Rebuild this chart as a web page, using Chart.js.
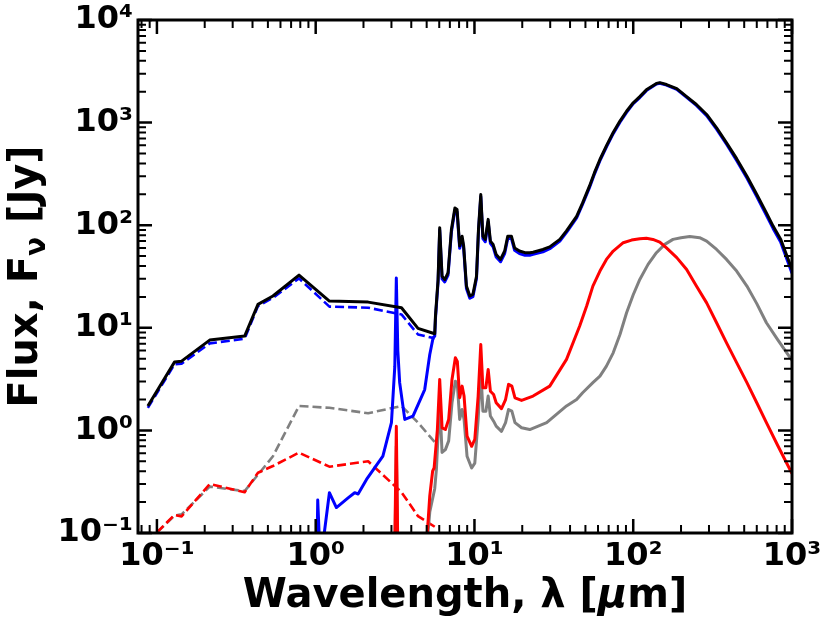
<!DOCTYPE html>
<html>
<head>
<meta charset="utf-8">
<script src="https://cdn.jsdelivr.net/npm/chart.js@4.4.0/dist/chart.umd.min.js"></script>
<style>
  html, body { margin: 0; padding: 0; background: #fff; }
</style>
</head>
<body>
<canvas id="sed" width="830" height="623" style="width:830px;height:623px"></canvas>
<script>
// wavelengths in micron, fluxes in Jy

// coarse stellar sampling (dashed lines)
const photWave      = [0.0877, 0.129, 0.143, 0.215, 0.357, 0.433, 0.538, 0.785, 1.22, 2.14, 3.47, 4.41, 5.62];
const starFlux      = [1.66, 4.40, 4.47, 7.05, 7.83, 16.3, 19.6, 30.3, 16.1, 15.7, 13.5, 8.6, 7.9];
const starRedFlux   = [0.083, 0.15, 0.145, 0.30, 0.25, 0.387, 0.45, 0.607, 0.443, 0.50, 0.25, 0.146, 0.115];
const starGreyFlux  = [0.083, 0.148, 0.152, 0.283, 0.256, 0.37, 0.56, 1.73, 1.66, 1.47, 1.73, 1.19, 0.77];

// total (black)
const totalWave = [0.0877, 0.129, 0.143, 0.215, 0.357, 0.433, 0.538, 0.785, 1.22, 2.14, 3.47, 4.41, 5.62,
  5.68, 5.9, 6.04, 6.25, 6.5, 6.82, 7.16, 7.53, 7.77, 8.07, 8.36, 8.55, 8.9, 9.35, 9.78, 10.3, 10.6,
  10.96, 11.3, 11.7, 12.2, 12.6, 13.1, 13.7, 14.6, 15.5, 16.2, 17.1, 17.9, 19.2, 20.8, 22.3, 23.4, 27,
  29.8, 34.5, 38, 44, 48, 53, 57, 61.7, 68, 74.8, 82.5, 90.8, 100, 110, 121, 140, 147, 162, 188, 217,
  250, 290, 335, 387, 448, 520, 600, 690, 760, 850, 1000];
const totalFlux = [1.73, 4.63, 4.73, 7.59, 8.3, 16.9, 20.4, 32.6, 18.2, 17.8, 15.7, 9.86, 8.75,
  13, 29.5, 94.6, 31.8, 29.5, 34.4, 91, 147, 142, 62.8, 78, 62.8, 25.5, 20.4, 21.2, 31.8, 91,
  199, 78, 72.8, 114, 70, 65, 51.8, 46.4, 56, 78, 78, 60, 56, 54, 54, 54.5, 58,
  61.5, 72.7, 88, 122, 165, 240, 325, 437, 600, 800, 1035, 1290, 1560, 1790, 2085, 2410, 2450, 2350, 2140, 1790,
  1500, 1200, 890, 635, 445, 300, 199, 132, 98, 72.7, 37];

// dust (blue solid)
const dustWave = [1.0, 1.03, 1.07, 1.22, 1.35, 1.6, 1.76, 1.85, 2.09, 2.65, 3.0, 3.15, 3.22, 3.29, 3.38, 3.64,
  4.1, 4.86, 5.23, 5.49, 5.62, 5.68, 5.9, 6.04, 6.25, 6.5, 6.82, 7.16, 7.53, 7.77, 8.07, 8.36, 8.55, 8.9,
  9.35, 9.78, 10.3, 10.6, 10.96, 11.3, 11.7, 12.2, 12.6, 13.1, 13.7, 14.6, 15.5, 16.2, 17.1, 17.9, 19.2,
  20.8, 22.3, 23.4, 27, 29.8, 34.5, 38, 44, 48, 53, 57, 61.7, 68, 74.8, 82.5, 90.8, 100, 110, 121, 140,
  147, 162, 188, 217, 250, 290, 335, 387, 448, 520, 600, 690, 760, 850, 1000];
const dustFlux = [0.01, 0.21, 0.05, 0.247, 0.177, 0.22, 0.247, 0.24, 0.333, 0.562, 1.19, 4.2, 30.6, 6.0, 2.92, 1.28,
  1.38, 2.5, 5.5, 8.0, 8.3, 12.3, 28, 90, 30, 28, 32.7, 86, 140, 135, 59.5, 74, 59.5, 24.2,
  19.4, 20.1, 30.2, 86.5, 190, 74, 69, 108, 66.5, 61.5, 49, 44, 53, 74, 74, 57, 53,
  51, 51, 52, 55, 59, 70, 85, 118, 160, 232, 315, 425, 585, 780, 1010, 1260, 1530, 1755, 2050, 2380,
  2420, 2320, 2110, 1760, 1470, 1170, 865, 615, 428, 288, 190, 125, 93, 68, 34];

// warm dust (red solid)
const warmWave = [3.1, 3.22, 3.34, 4.9, 5.23, 5.45, 5.57, 5.84, 6.04, 6.25, 6.56, 6.88, 7.22, 7.58, 7.8, 8.07,
  8.36, 8.6, 8.98, 9.6, 10.05, 10.55, 10.96, 11.3, 11.8, 12.2, 12.6, 13.2, 13.7, 14.8, 15.7, 16.4, 17.2,
  18, 19.8, 23.4, 29.8, 38, 46, 50.9, 55.7, 61.7, 67.8, 74.8, 86.5, 97.6, 110, 121, 133, 147, 162, 188,
  217, 250, 290, 335, 387, 448, 520, 600, 690, 810, 1000];
const warmFlux = [0.01, 1.10, 0.01, 0.05, 0.23, 0.40, 0.43, 1.02, 3.14, 1.06, 1.02, 1.28, 3.14, 5.1, 4.7, 2.08,
  2.7, 2.16, 0.88, 0.70, 0.82, 2.16, 6.87, 2.6, 2.6, 3.93, 2.41, 2.24, 1.86, 1.63, 2.0, 2.81, 2.7,
  2.08, 1.96, 2.16, 2.7, 4.92, 10.4, 16.3, 25.5, 35.7, 46.4, 56, 67.5, 71.6, 73.9, 74.5, 72.7, 68.5, 60, 48.3,
  37, 25.5, 17.5, 11.2, 7.14, 4.57, 2.92, 1.86, 1.19, 0.72, 0.38];

// cold dust (grey solid)
const coldWave = [3.1, 3.22, 3.34, 4.9, 5.23, 5.62, 5.76, 6.04, 6.25, 6.56, 6.88, 7.22, 7.58, 7.8, 8.07, 8.36,
  8.6, 8.98, 9.6, 10.05, 10.55, 10.96, 11.3, 11.8, 12.2, 12.6, 13.2, 13.7, 14.8, 15.7, 16.4, 17.2, 18,
  19.8, 22.3, 28.5, 38, 44, 48, 55.7, 61.7, 67.8, 74.8, 82.5, 90.8, 100, 110, 124, 140, 158, 178, 200,
  227, 262, 290, 335, 387, 448, 520, 600, 690, 810, 1000];
const coldFlux = [0.01, 0.70, 0.01, 0.05, 0.16, 0.27, 0.42, 1.93, 0.61, 0.65, 0.79, 1.86, 3.02, 2.81, 1.28, 1.6,
  1.28, 0.56, 0.43, 0.48, 1.28, 3.93, 1.54, 1.54, 2.16, 1.38, 1.23, 1.1, 0.98, 1.19, 1.6, 1.54, 1.19,
  1.06, 1.02, 1.19, 1.73, 2.0, 2.33, 2.92, 3.38, 4.23, 5.7, 8.6, 14, 21, 29.6, 41.5, 53.9, 65, 72.7, 75.5,
  77.5, 75.5, 70, 58, 46.4, 35.7, 25.5, 17.2, 11.2, 7.7, 4.8];

const xTickValues = [0.1, 1, 10, 100, 1000];
const xTickLabels = ['10⁻¹', '10⁰', '10¹', '10²', '10³'];
const yTickValues = [0.1, 1, 10, 100, 1000, 10000];
const yTickLabels = ['10⁻¹', '10⁰', '10¹', '10²', '10³', '10⁴'];

const FONT = 'DejaVu Sans';

function pts(xs, ys) {
  return xs.map((x, i) => ({ x: x, y: ys[i] }));
}

function line(label, xs, ys, color, dashed, order) {
  return {
    label: label,
    data: pts(xs, ys),
    showLine: true,
    borderColor: color,
    backgroundColor: color,
    borderWidth: dashed ? 2.6 : 3,
    borderDash: dashed ? [9, 4] : [],
    borderJoinStyle: 'round',
    pointRadius: 0,
    tension: 0,
    fill: false,
    order: order
  };
}

// frame, inward ticks on all four sides, and axis titles
const framePlugin = {
  id: 'frame',
  afterDatasetsDraw(chart) {
    const ctx = chart.ctx;
    const a = chart.chartArea;
    const xs = chart.scales.x, ys = chart.scales.y;
    ctx.save();
    ctx.strokeStyle = '#000';
    ctx.lineCap = 'butt';
    for (let n = -2; n <= 4; n++) {
      for (let k = 1; k <= 9; k++) {
        const v = k * Math.pow(10, n);
        const len = k === 1 ? 14 : 8;
        ctx.lineWidth = k === 1 ? 2.5 : 2;
        if (v >= xs.min && v <= xs.max) {
          const px = xs.getPixelForValue(v);
          ctx.beginPath();
          ctx.moveTo(px, a.bottom); ctx.lineTo(px, a.bottom - len);
          ctx.moveTo(px, a.top); ctx.lineTo(px, a.top + len);
          ctx.stroke();
        }
        if (v >= ys.min && v <= ys.max) {
          const py = ys.getPixelForValue(v);
          ctx.beginPath();
          ctx.moveTo(a.left, py); ctx.lineTo(a.left + len, py);
          ctx.moveTo(a.right, py); ctx.lineTo(a.right - len, py);
          ctx.stroke();
        }
      }
    }
    ctx.lineWidth = 3;
    ctx.strokeRect(a.left, a.top, a.right - a.left, a.bottom - a.top);
    ctx.restore();
  },
  afterDraw(chart) {
    const ctx = chart.ctx;
    const a = chart.chartArea;
    const big = 'bold 40px ' + FONT;
    ctx.save();
    ctx.fillStyle = '#000';
    ctx.textBaseline = 'alphabetic';
    ctx.textAlign = 'left';

    // x title
    const xParts = [
      { t: 'Wavelength, λ [', f: big, dy: 0 },
      { t: 'μ', f: 'bold italic 40px ' + FONT, dy: 0 },
      { t: 'm]', f: big, dy: 0 }
    ];
    drawParts(ctx, xParts, (a.left + a.right) / 2, 607);

    // y title, rotated
    ctx.translate(37, (a.top + a.bottom) / 2);
    ctx.rotate(-Math.PI / 2);
    const yParts = [
      { t: 'Flux, F', f: big, dy: 0 },
      { t: 'ν', f: 'bold 28px ' + FONT, dy: 8 },
      { t: ' [Jy]', f: big, dy: 0 }
    ];
    drawParts(ctx, yParts, 0, 0);
    ctx.restore();
  }
};

function drawParts(ctx, parts, cx, baseY) {
  let total = 0;
  parts.forEach(p => { ctx.font = p.f; p.w = ctx.measureText(p.t).width; total += p.w; });
  let x = cx - total / 2;
  parts.forEach(p => {
    ctx.font = p.f;
    ctx.fillText(p.t, x, baseY + p.dy);
    x += p.w;
  });
}

new Chart(document.getElementById('sed'), {
  type: 'scatter',
  data: {
    datasets: [
      line('Total', totalWave, totalFlux, '#000000', false, 0),
      line('Dust', dustWave, dustFlux, '#0000ff', false, 1),
      line('Stars', photWave, starFlux, '#0000ff', true, 2),
      line('Warm dust', warmWave, warmFlux, '#ff0000', false, 3),
      line('Cold dust', coldWave, coldFlux, '#808080', false, 4),
      line('Stars (warm)', photWave, starRedFlux, '#ff0000', true, 5),
      line('Stars (cold)', photWave, starGreyFlux, '#808080', true, 6)
    ]
  },
  options: {
    responsive: false,
    animation: false,
    layout: { padding: { left: 0, right: 38, top: 20, bottom: 0 } },
    plugins: {
      legend: { display: false },
      tooltip: { enabled: false }
    },
    scales: {
      x: {
        type: 'logarithmic',
        min: 0.076,
        max: 1000,
        grid: { display: false, drawTicks: false },
        border: { display: false },
        afterBuildTicks: s => { s.ticks = xTickValues.map(v => ({ value: v })); },
        afterFit: s => { s.height = 90; s.paddingLeft = 0; s.paddingRight = 0; },
        ticks: {
          autoSkip: false,
          maxRotation: 0,
          padding: 4,
          color: '#000',
          font: { family: FONT, size: 32, weight: 'bold' },
          callback: v => xTickLabels[xTickValues.indexOf(v)]
        }
      },
      y: {
        type: 'logarithmic',
        min: 0.1,
        max: 10000,
        grid: { display: false, drawTicks: false },
        border: { display: false },
        afterBuildTicks: s => { s.ticks = yTickValues.map(v => ({ value: v })); },
        afterFit: s => { s.width = 138; s.paddingTop = 0; s.paddingBottom = 0; },
        ticks: {
          autoSkip: false,
          padding: 5,
          color: '#000',
          font: { family: FONT, size: 32, weight: 'bold' },
          callback: v => yTickLabels[yTickValues.indexOf(v)]
        }
      }
    }
  },
  plugins: [framePlugin]
});
</script>
</body>
</html>
